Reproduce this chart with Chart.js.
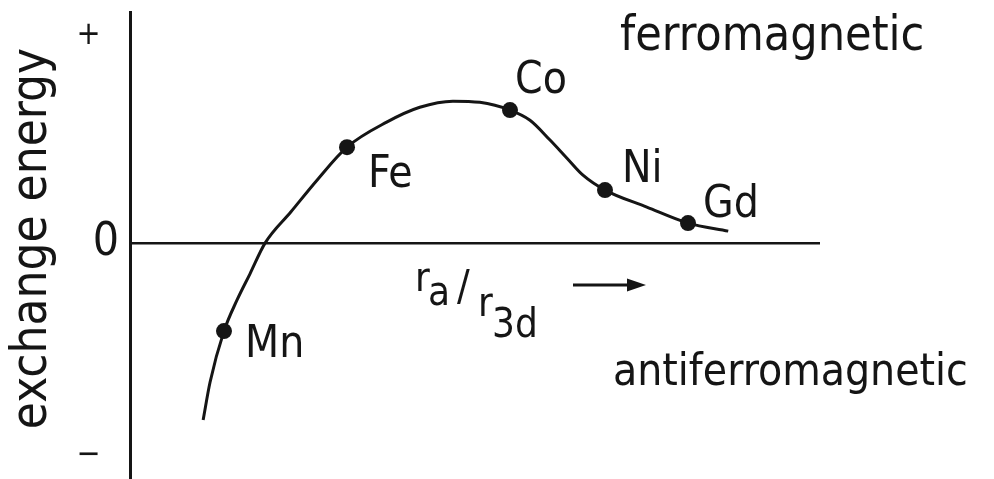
<!DOCTYPE html>
<html>
<head>
<meta charset="utf-8">
<script src="https://cdn.jsdelivr.net/npm/chart.js@4.4.0/dist/chart.umd.min.js"></script>
<style>
  html, body { margin: 0; padding: 0; background: #fff; }
  canvas { display: block; }
</style>
</head>
<body>
<canvas id="chart" width="994" height="479"></canvas>
<script>
// Bethe-Slater curve: exchange energy against r_a / r_3d
var curveR = [10.6, 11.6, 13.62, 15.5, 17.39, 19.57, 23.33, 27.1, 31.45, 37.2, 42.0, 46.8, 50.7, 55.07, 57.97, 60.87, 63.33, 65.65, 68.84, 74.9, 80.87, 86.7];
var curveJ = [-7.5, -5.9, -3.73, -2.42, -1.3, 0, 1.33, 2.67, 4.07, 5.13, 5.76, 6.02, 5.97, 5.64, 5.21, 4.37, 3.6, 2.88, 2.25, 1.53, 0.85, 0.51];

var elements = ['Mn', 'Fe', 'Co', 'Ni', 'Gd'];
var elementR = [13.62, 31.45, 55.07, 68.84, 80.87];
var elementJ = [-3.73, 4.07, 5.64, 2.25, 0.85];

var yTicks = [8.8, 0, -9];
var yTickLabels = ['+  ', '0', '\u2212  '];

var ink = '#151515';
var face = '"DejaVu Sans Condensed", "DejaVu Sans", sans-serif';

// where each element name sits relative to its dot
var labelOffset = {
    Mn: [21, 26],
    Fe: [21, 40],
    Co: [5, -17],
    Ni: [17, -8],
    Gd: [15, -6]
};

function text(ctx, str, x, y, size) {
    ctx.font = size + 'px ' + face;
    ctx.fillText(str, x, y);
}

var notes = {
    id: 'notes',
    afterDatasetsDraw: function (chart) {
        var ctx = chart.ctx;
        var xs = chart.scales.x, ys = chart.scales.y;
        ctx.save();
        ctx.fillStyle = ink;
        ctx.strokeStyle = ink;
        ctx.textAlign = 'left';
        ctx.textBaseline = 'alphabetic';

        elements.forEach(function (name, i) {
            var px = xs.getPixelForValue(elementR[i]);
            var py = ys.getPixelForValue(elementJ[i]);
            var off = labelOffset[name];
            text(ctx, name, px + off[0], py + off[1], 44);
        });

        text(ctx, 'ferromagnetic', 620, 50, 48);
        text(ctx, 'antiferromagnetic', 613, 385, 44);

        // r_a / r_3d  ->
        text(ctx, 'r', 415, 291, 40);
        text(ctx, 'a', 428, 305, 40);
        text(ctx, '/', 457, 300, 42);
        text(ctx, 'r', 478, 316, 40);
        text(ctx, '3d', 492, 337, 40);

        ctx.lineWidth = 3;
        ctx.beginPath();
        ctx.moveTo(573, 285);
        ctx.lineTo(632, 285);
        ctx.stroke();
        ctx.beginPath();
        ctx.moveTo(646, 285);
        ctx.lineTo(627, 278.5);
        ctx.lineTo(627, 291.5);
        ctx.closePath();
        ctx.fill();
        ctx.restore();
    }
};

var ctx = document.getElementById('chart');
var chart = new Chart(ctx, {
    type: 'scatter',
    data: {
        datasets: [{
            label: 'curve',
            data: curveR.map(function (r, i) { return {x: r, y: curveJ[i]}; }),
            showLine: true,
            cubicInterpolationMode: 'monotone',
            borderColor: ink,
            borderWidth: 3,
            pointRadius: 0,
            order: 2
        }, {
            label: 'elements',
            data: elementR.map(function (r, i) { return {x: r, y: elementJ[i]}; }),
            pointRadius: 8,
            pointBackgroundColor: ink,
            pointBorderWidth: 0,
            order: 1
        }]
    },
    options: {
        responsive: false,
        animation: false,
        events: [],
        layout: { autoPadding: false, padding: { left: 0, right: 174, top: 12, bottom: 0 } },
        plugins: {
            legend: { display: false },
            tooltip: { enabled: false }
        },
        scales: {
            x: {
                type: 'linear',
                min: 0,
                max: 100,
                display: false
            },
            y: {
                type: 'linear',
                min: -10,
                max: 9.8,
                afterFit: function (scale) {
                    scale.width = 130;
                    scale.paddingTop = 0;
                    scale.paddingBottom = 0;
                },
                afterBuildTicks: function (scale) {
                    scale.ticks = yTicks.map(function (v) { return {value: v}; });
                },
                border: { display: true, color: ink, width: 3 },
                grid: {
                    drawTicks: false,
                    lineWidth: 2.5,
                    color: function (c) { return c.tick && c.tick.value === 0 ? ink : 'rgba(0,0,0,0)'; }
                },
                ticks: {
                    padding: 11,
                    color: ink,
                    font: function (c) {
                        var big = c.tick && c.tick.value === 0;
                        return { family: face, size: big ? 46 : 32 };
                    },
                    callback: function (v, i) { return yTickLabels[i]; }
                },
                title: {
                    display: true,
                    // leading space nudges the rotated label a little upward
                    text: ' exchange energy',
                    color: ink,
                    font: { family: face, size: 49 },
                    padding: { top: 4, bottom: 0 }
                }
            }
        }
    },
    plugins: [notes]
});
</script>
</body>
</html>
